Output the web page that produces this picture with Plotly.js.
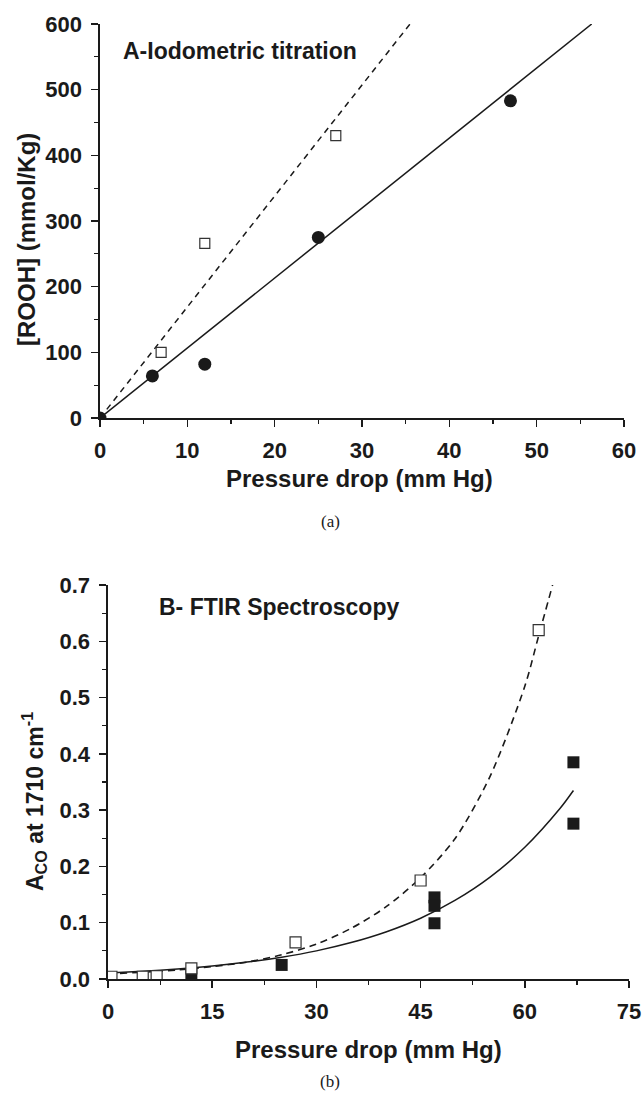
<!DOCTYPE html>
<html>
<head>
<meta charset="utf-8">
<script src="https://cdn.plot.ly/plotly-3.0.1.min.js"></script>
<style>html,body{margin:0;padding:0;background:#fff;}#chart{width:644px;height:1093px;}</style>
</head>
<body>
<div id="chart"></div>
<script>
// ---- Panel A: iodometric titration ----
const aCircleX = [0, 6, 12, 25, 47];
const aCircleY = [0, 64, 82, 275, 483];
const aSquareX = [7, 12, 27];
const aSquareY = [100, 266, 430];
const aFitSolidX = [0, 56.3];
const aFitSolidY = [0, 600];
const aFitDashX = [0, 35.5];
const aFitDashY = [0, 600];
const aXTicks = [0, 10, 20, 30, 40, 50, 60];
const aYTicks = [0, 100, 200, 300, 400, 500, 600];

// ---- Panel B: FTIR spectroscopy ----
const bOpenX = [0.5, 5, 7, 12, 27, 45, 62];
const bOpenY = [0.004, 0.004, 0.005, 0.019, 0.065, 0.175, 0.62];
const bFilledX = [12, 25, 47, 47, 47, 67, 67];
const bFilledY = [0.008, 0.025, 0.145, 0.13, 0.099, 0.385, 0.276];
const bSolidX = [0, 5, 10, 15, 20, 25, 30, 35, 40, 45, 50, 55, 60, 65, 67];
const bSolidY = [0.0107, 0.0138, 0.0179, 0.0232, 0.030, 0.0387, 0.050, 0.0647, 0.0836, 0.108, 0.140, 0.181, 0.234, 0.302, 0.335];
const bDashX = [0, 5, 10, 15, 20, 25, 30, 35, 40, 45, 50, 55, 60, 62, 64];
const bDashY = [0.009, 0.012, 0.016, 0.022, 0.030, 0.043, 0.062, 0.090, 0.128, 0.180, 0.250, 0.360, 0.520, 0.610, 0.700];
const bXTicks = [0, 15, 30, 45, 60, 75];
const bYTicks = [0.0, 0.1, 0.2, 0.3, 0.4, 0.5, 0.6, 0.7];

const W = 644, H = 1093;
const px = v => v / W;
const py = v => 1 - v / H;
const INK = '#1a1a1a';
const FONT = 'Liberation Sans, Arial, sans-serif';
const SERIF = 'Liberation Serif, Times New Roman, serif';

const traces = [
  {x: aFitDashX, y: aFitDashY, xaxis: 'x', yaxis: 'y', mode: 'lines',
   line: {color: INK, width: 1.5, dash: '6px,5px'}, hoverinfo: 'skip'},
  {x: aFitSolidX, y: aFitSolidY, xaxis: 'x', yaxis: 'y', mode: 'lines',
   line: {color: INK, width: 1.5}, hoverinfo: 'skip'},
  {x: aCircleX, y: aCircleY, xaxis: 'x', yaxis: 'y', mode: 'markers',
   marker: {symbol: 'circle', size: 13, color: INK}},
  {x: aSquareX, y: aSquareY, xaxis: 'x', yaxis: 'y', mode: 'markers',
   marker: {symbol: 'square', size: 10, color: '#fff', line: {color: '#333', width: 1.2}}},

  {x: bDashX, y: bDashY, xaxis: 'x2', yaxis: 'y2', mode: 'lines',
   line: {color: INK, width: 1.6, dash: '7px,5px', shape: 'spline', smoothing: 0.8}, hoverinfo: 'skip'},
  {x: bSolidX, y: bSolidY, xaxis: 'x2', yaxis: 'y2', mode: 'lines',
   line: {color: INK, width: 1.5, shape: 'spline', smoothing: 0.8}, hoverinfo: 'skip'},
  {x: bFilledX, y: bFilledY, xaxis: 'x2', yaxis: 'y2', mode: 'markers',
   marker: {symbol: 'square', size: 12, color: INK}},
  {x: bOpenX, y: bOpenY, xaxis: 'x2', yaxis: 'y2', mode: 'markers',
   marker: {symbol: 'square', size: 11, color: '#fff', line: {color: '#333', width: 1.2}}}
];

function axisBase(extra) {
  return Object.assign({
    showline: true, linecolor: INK, linewidth: 1.6, mirror: false,
    showgrid: false, zeroline: false,
    ticks: 'outside', ticklen: 7, tickwidth: 1.5, tickcolor: INK,
    ticklabelstandoff: 5,
    tickfont: {family: FONT, size: 22, weight: 'bold', color: INK},
    fixedrange: true
  }, extra);
}

const layout = {
  width: W, height: H,
  margin: {l: 0, r: 0, t: 0, b: 0},
  paper_bgcolor: '#fff', plot_bgcolor: '#fff',
  showlegend: false,
  xaxis: axisBase({domain: [px(100), px(624)], range: [0, 60], anchor: 'y',
    tickmode: 'array', tickvals: aXTicks, ticktext: aXTicks.map(String),
    minor: {tickmode: 'linear', tick0: 0, dtick: 5, ticks: 'outside', ticklen: 4, tickwidth: 1.2, tickcolor: INK}}),
  yaxis: axisBase({domain: [py(418), py(24)], range: [0, 600], anchor: 'x',
    tickmode: 'array', tickvals: aYTicks, ticktext: aYTicks.map(String),
    minor: {tickmode: 'linear', tick0: 0, dtick: 50, ticks: 'outside', ticklen: 4, tickwidth: 1.2, tickcolor: INK}}),
  xaxis2: axisBase({domain: [px(108), px(629)], range: [0, 75], anchor: 'y2',
    tickmode: 'array', tickvals: bXTicks, ticktext: bXTicks.map(String),
    minor: {tickmode: 'linear', tick0: 0, dtick: 7.5, ticks: 'outside', ticklen: 4, tickwidth: 1.2, tickcolor: INK}}),
  yaxis2: axisBase({domain: [py(979), py(585)], range: [0, 0.7], anchor: 'x2',
    tickmode: 'array', tickvals: bYTicks, ticktext: bYTicks.map(v => v.toFixed(1)),
    minor: {tickmode: 'linear', tick0: 0, dtick: 0.05, ticks: 'outside', ticklen: 4, tickwidth: 1.2, tickcolor: INK}}),
  annotations: [
    {text: 'A-Iodometric titration', xref: 'paper', yref: 'paper', x: px(121), y: py(51),
     xanchor: 'left', yanchor: 'middle', showarrow: false,
     font: {family: FONT, size: 23, weight: 'bold', color: INK}},
    {text: 'B- FTIR Spectroscopy', xref: 'paper', yref: 'paper', x: px(157), y: py(607),
     xanchor: 'left', yanchor: 'middle', showarrow: false,
     font: {family: FONT, size: 23, weight: 'bold', color: INK}},
    {text: 'Pressure drop (mm Hg)', xref: 'paper', yref: 'paper', x: px(360), y: py(478),
     xanchor: 'center', yanchor: 'middle', showarrow: false,
     font: {family: FONT, size: 24, weight: 'bold', color: INK}},
    {text: 'Pressure drop (mm Hg)', xref: 'paper', yref: 'paper', x: px(368), y: py(1049),
     xanchor: 'center', yanchor: 'middle', showarrow: false,
     font: {family: FONT, size: 24, weight: 'bold', color: INK}},
    {text: '[ROOH] (mmol/Kg)', xref: 'paper', yref: 'paper', x: px(26), y: py(240),
     xanchor: 'center', yanchor: 'middle', textangle: -90, showarrow: false,
     font: {family: FONT, size: 24, weight: 'bold', color: INK}},
    {text: 'A<sub>CO</sub> at 1710 cm<sup>-1</sup>', xref: 'paper', yref: 'paper', x: px(34), y: py(802),
     xanchor: 'center', yanchor: 'middle', textangle: -90, showarrow: false,
     font: {family: FONT, size: 23, weight: 'bold', color: INK}},
    {text: '(a)', xref: 'paper', yref: 'paper', x: px(330), y: py(521),
     xanchor: 'center', yanchor: 'middle', showarrow: false,
     font: {family: SERIF, size: 17, color: INK}},
    {text: '(b)', xref: 'paper', yref: 'paper', x: px(330), y: py(1081),
     xanchor: 'center', yanchor: 'middle', showarrow: false,
     font: {family: SERIF, size: 17, color: INK}}
  ]
};

Plotly.newPlot('chart', traces, layout, {displayModeBar: false, staticPlot: true});
</script>
</body>
</html>
